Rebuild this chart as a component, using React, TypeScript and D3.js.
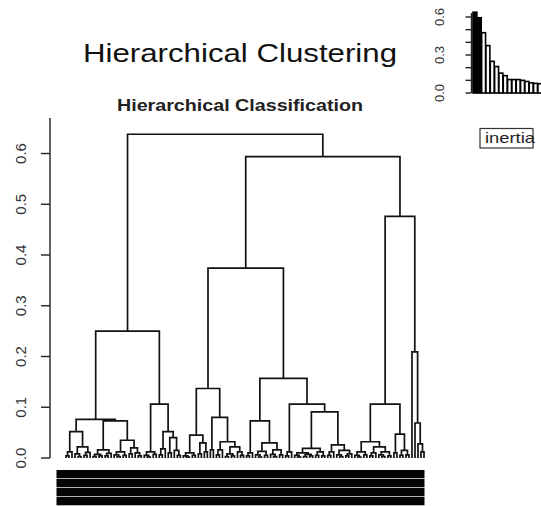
import React from "react";
import * as d3 from "d3";

type Node = number | [number, Node, Node];

// ---- axis ticks ----
const yTicks = [0, 0.1, 0.2, 0.3, 0.4, 0.5, 0.6];
const yTickLabels = ["0.0", "0.1", "0.2", "0.3", "0.4", "0.5", "0.6"];
const insetTicks = [0, 0.1, 0.2, 0.3, 0.4, 0.5, 0.6];
const insetLabelValues = [0, 0.3, 0.6];
const insetLabels = ["0.0", "0.3", "0.6"];

// ---- inertia gain barplot (inset) ----
const inertiaValues = [0.638, 0.594, 0.476, 0.374, 0.25, 0.209, 0.157, 0.137, 0.106, 0.106, 0.106, 0.1, 0.091, 0.08, 0.076, 0.073];
const inertiaBlack = 2;

// ---- small terminal groups of the dendrogram (leaf = 0) ----
const g1: Node = [0.012, [0.004, 0, 0], 0];
const g2: Node = [0.008, 0, [0.003, 0, 0]];
const g3: Node = [0.011, [0.005, 0, 0], 0];
const g4: Node = [0.007, [0.003, 0, 0], [0.004, 0, 0]];
const g5: Node = [0.009, [0.004, 0, 0], 0];
const g6: Node = [0.012, [0.006, 0, [0.003, 0, 0]], [0.005, 0, 0]];
const g7: Node = [0.008, 0, 0];
const g8: Node = [0.01, 0, [0.004, 0, 0]];
const g9: Node = [0.012, [0.005, 0, [0.002, 0, 0]], [0.007, 0, 0]];
const g10: Node = [0.018, [0.006, 0, 0], 0];
const g11: Node = [0.01, 0, 0];
const g12: Node = [0.015, 0, [0.005, 0, 0]];
const g13: Node = [0.01, [0.004, 0, [0.002, 0, 0]], [0.005, 0, 0]];
const g14: Node = [0.03, [0.008, 0, 0], [0.012, 0, 0]];
const g15: Node = [0.016, 0, 0];
const g16: Node = [0.016, [0.006, 0, 0], 0];
const g17: Node = [0.008, [0.003, 0, 0], [0.004, 0, 0]];
const g18: Node = [0.012, 0, [0.005, 0, 0]];
const g19: Node = [0.01, [0.004, 0, 0], 0];
const g20: Node = [0.013, [0.006, 0, [0.002, 0, 0]], [0.005, 0, 0]];
const g21: Node = [0.016, [0.007, 0, [0.003, 0, 0]], [0.006, 0, 0]];
const g22: Node = [0.012, [0.004, 0, 0], 0];
const g23: Node = [0.01, [0.005, 0, [0.002, 0, 0]], [0.007, [0.003, 0, 0], [0.004, 0, 0]]];
const g24: Node = [0.012, [0.005, 0, 0], [0.004, 0, 0]];
const g25: Node = [0.012, [0.005, 0, 0], 0];
const g26: Node = [0.015, [0.006, 0, [0.003, 0, 0]], [0.008, [0.004, 0, 0], 0]];
const g27: Node = [0.012, [0.005, 0, [0.002, 0, 0]], [0.006, 0, 0]];
const g28: Node = [0.01, [0.004, 0, 0], 0];
const g29: Node = [0.012, [0.006, 0, [0.003, 0, 0]], [0.004, 0, 0]];
const g30: Node = [0.01, 0, 0];
const g31: Node = [0.015, [0.005, 0, 0], [0.006, 0, 0]];

// ---- main branches ----
const A1a: Node = [0.052, g1, [0.022, g2, g3]];
const A1b: Node = [0.073, [0.016, g4, g5], [0.035, g6, [0.02, g7, g8]]];
const A2: Node = [0.106, g9, [0.052, g10, [0.04, g11, g12]]];
const A: Node = [0.25, [0.076, A1a, A1b], A2];

const B1a: Node = [0.137, [0.045, g13, g14], [0.08, g15, [0.032, g16, [0.022, g17, g18]]]];
const B1b: Node = [0.157, [0.073, g19, [0.03, g20, g21]], [0.106, g22, [0.091, [0.019, g23, g24], [0.026, g25, g26]]]];
const B2l: Node = [0.106, [0.032, g27, [0.022, g28, g29]], [0.047, g30, g31]];
const B2r: Node = [0.209, 0, [0.069, 0, [0.028, 0, [0.012, 0, 0]]]];
const B: Node = [0.594, [0.374, B1a, B1b], [0.476, B2l, B2r]];

const tree: Node = [0.638, A, B];

const labelStripes = [0, 1, 2, 3];

const FONT = "'Liberation Sans', Arial, Helvetica, sans-serif";

export default function App() {
  const root = d3.hierarchy<Node>(tree, (d) => (Array.isArray(d) ? [d[1], d[2]] : null));
  const leaves = root.leaves();
  const xScale = d3
    .scalePoint<number>()
    .domain(leaves.map((_, i) => i))
    .range([66, 424]);
  leaves.forEach((l, i) => {
    (l as any).x = xScale(i);
  });
  root.eachAfter((n: any) => {
    if (n.children) n.x = d3.mean(n.children, (c: any) => c.x);
  });
  const hOf = (n: d3.HierarchyNode<Node>) => (Array.isArray(n.data) ? n.data[0] : 0);
  const y = d3.scaleLinear().domain([0, 0.67]).range([458, 118]);

  const links: string[] = [];
  root.each((n: any) => {
    if (!n.children) return;
    const [c0, c1] = n.children as any[];
    links.push(`M${c0.x},${y(hOf(c0))}V${y(hOf(n))}H${c1.x}V${y(hOf(c1))}`);
  });

  // inset
  const iy = d3.scaleLinear().domain([0, 0.6]).range([93, 17]);
  const ix = d3
    .scaleBand<number>()
    .domain(inertiaValues.map((_, i) => i))
    .range([473, 473 + 4.3 * inertiaValues.length])
    .paddingInner(0.1)
    .paddingOuter(0);

  return (
    <svg
      width={541}
      height={506}
      style={{ position: "absolute", left: 0, top: 0, background: "#fff" }}
      fontFamily={FONT}
    >
      <rect x={0} y={0} width={541} height={506} fill="#fff" />
      {/* titles */}
      <text x={83} y={62} fontSize={26} fill="#111" textLength={314} lengthAdjust="spacingAndGlyphs">
        Hierarchical Clustering
      </text>
      <text x={117} y={110.5} fontSize={16} fontWeight="bold" fill="#222" textLength={246} lengthAdjust="spacingAndGlyphs">
        Hierarchical Classification
      </text>

      {/* main y axis */}
      <line x1={50} x2={50} y1={118} y2={y(0)} stroke="#222" strokeWidth={1.4} />
      {yTicks.map((t, i) => (
        <g key={t}>
          <line x1={41} x2={50} y1={y(t)} y2={y(t)} stroke="#222" strokeWidth={1.4} />
          <text
            transform={`translate(25.5,${y(t)}) rotate(-90)`}
            textAnchor="middle"
            fontSize={15}
            fill="#333"
          >
            {yTickLabels[i]}
          </text>
        </g>
      ))}

      {/* dendrogram */}
      <g fill="none" stroke="#111" strokeWidth={1.7} strokeLinejoin="miter">
        {links.map((d, i) => (
          <path key={i} d={d} />
        ))}
      </g>

      {/* overlapping leaf label band */}
      {labelStripes.map((s) => (
        <rect key={s} x={56.5} y={470 + s * 9} width={368} height={8.3} fill="#050505" />
      ))}

      {/* inset: inertia gain */}
      <line x1={471.5} x2={471.5} y1={iy(0)} y2={13} stroke="#222" strokeWidth={1.4} />
      {insetTicks.map((t) => (
        <line key={t} x1={465.5} x2={471.5} y1={iy(t)} y2={iy(t)} stroke="#222" strokeWidth={1.4} />
      ))}
      {insetLabelValues.map((t, i) => (
        <text
          key={t}
          transform={`translate(444,${iy(t)}) rotate(-90)`}
          textAnchor="middle"
          fontSize={13}
          fill="#333"
        >
          {insetLabels[i]}
        </text>
      ))}
      {inertiaValues.map((v, i) => (
        <rect
          key={i}
          x={ix(i)}
          y={iy(v)}
          width={ix.bandwidth()}
          height={iy(0) - iy(v)}
          fill={i < inertiaBlack ? "#000" : "#fff"}
          stroke="#000"
          strokeWidth={1.6}
        />
      ))}
      <rect x={480} y={128.5} width={53} height={19.5} fill="#fff" stroke="#333" strokeWidth={1.2} />
      <text x={485} y={143} fontSize={15} fill="#222" textLength={50} lengthAdjust="spacingAndGlyphs">
        inertia
      </text>
    </svg>
  );
}
